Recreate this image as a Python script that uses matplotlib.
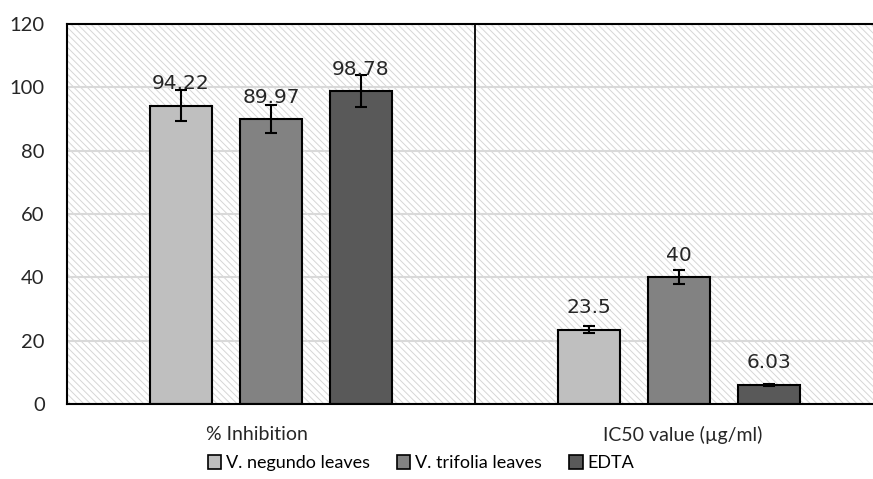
import matplotlib.pyplot as plt
import numpy as np
from matplotlib.patches import Patch, Rectangle

# Data
categories = ["% Inhibition", "IC50 value (µg/ml)"]
series_names = ["V. negundo leaves", "V. trifolia leaves", "EDTA"]
negundo = [94.22, 23.5]
trifolia = [89.97, 40]
edta = [98.78, 6.03]
negundo_err = [5.0, 1.0]
trifolia_err = [4.5, 2.2]
edta_err = [5.0, 0.3]
label_text = [["94.22", "23.5"], ["89.97", "40"], ["98.78", "6.03"]]
y_ticks = [0, 20, 40, 60, 80, 100, 120]

colors = ["#bfbfbf", "#828282", "#595959"]
txt_font = ["Lato", "DejaVu Sans"]
plt.rcParams["hatch.linewidth"] = 0.7

fig = plt.figure(figsize=(8.73, 4.79), dpi=100)
ax = fig.add_axes([0.0767, 0.1566, 0.9233, 0.7933])

# hatched background of the plot area
bg = Rectangle((0, 0), 1, 1, transform=ax.transAxes, facecolor="white",
               edgecolor="#d6d6d6", hatch="\\\\\\\\\\", linewidth=0, zorder=0)
ax.add_patch(bg)

x = np.arange(len(categories))
width = 0.154
offsets = [-0.2206, 0.0, 0.2206]
values = [negundo, trifolia, edta]
errors = [negundo_err, trifolia_err, edta_err]

for i in range(3):
    xs = x + offsets[i]
    ax.bar(xs, values[i], width, color=colors[i], edgecolor="black",
           linewidth=1.5, zorder=2)
    ax.errorbar(xs, values[i], yerr=errors[i], fmt="none", ecolor="black",
                elinewidth=1.5, capsize=4.5, capthick=1.5, zorder=3)
    for j in range(len(categories)):
        ax.annotate(label_text[i][j], (xs[j], values[i][j]),
                    xytext=(0, 9), textcoords="offset points",
                    ha="center", va="bottom", fontsize=14.5,
                    family="DejaVu Sans", color="#262626", zorder=4)

# divider between the two categories
ax.axvline(0.5, color="black", linewidth=1.3, zorder=3)

ax.set_xlim(-0.5, 1.4755)
ax.set_ylim(0, 120)
ax.set_yticks(y_ticks)
ax.set_xticks(x + np.array([-0.035, 0.01]))
ax.set_xticklabels(categories, fontsize=14, family=txt_font, color="#262626")
ax.tick_params(axis="y", length=0, pad=16, labelsize=14.5, labelcolor="#262626")
ax.tick_params(axis="x", length=0, pad=16)
for t in ax.get_yticklabels():
    t.set_family(txt_font)

ax.yaxis.grid(True, color="#d9d9d9", linewidth=1.5)
ax.set_axisbelow(True)

for side in ["top", "left", "bottom"]:
    ax.spines[side].set_color("black")
    ax.spines[side].set_linewidth(1.5)
ax.spines["right"].set_visible(False)

handles = [Patch(facecolor=c, edgecolor="black", linewidth=1.2) for c in colors]
fig.legend(handles, series_names, loc="center", bbox_to_anchor=(0.482, 0.033),
           ncol=3, frameon=False, handlelength=0.75, handleheight=0.75,
           handletextpad=0.25, columnspacing=1.5,
           prop={"family": txt_font, "size": 13})

fig.savefig("out.png", dpi=100)
